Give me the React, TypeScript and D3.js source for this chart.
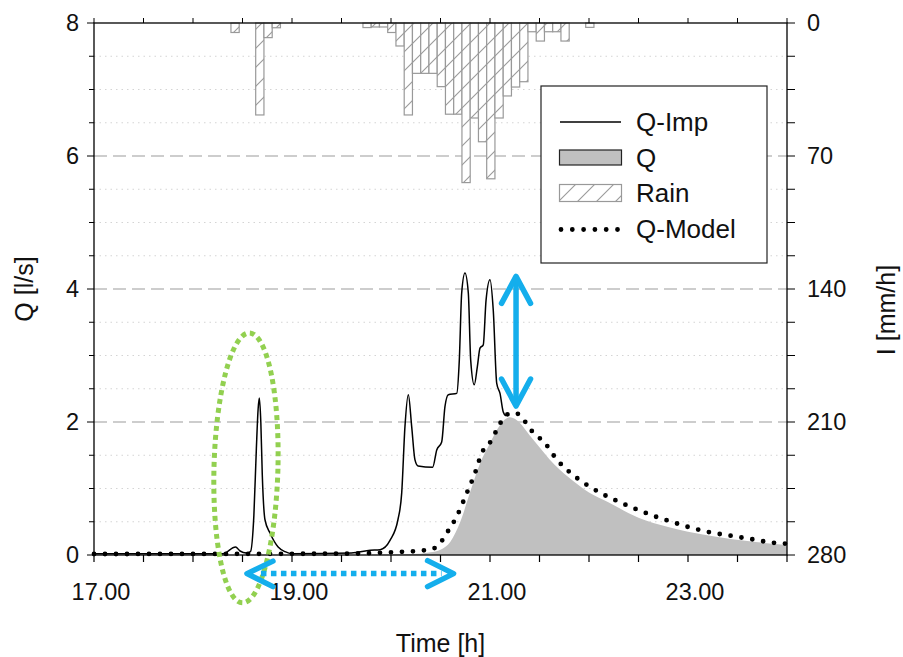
import React from "react";
import * as d3 from "d3";

// rain, 5-min blocks (start time hh:mm) and intensity in mm/h
const rainStart = [
  "18:23", "18:38", "18:43", "18:48", "19:43", "19:48", "19:53", "19:58", "20:03", "20:08",
  "20:13", "20:18", "20:23", "20:28", "20:33", "20:38", "20:43", "20:48", "20:53", "20:58",
  "21:03", "21:08", "21:13", "21:18", "21:23", "21:28", "21:33", "21:38", "21:43", "21:58",
];
const rainIntensity = [
  5, 48.4, 7.7, 2.5, 2.4, 2.1, 2.1, 5, 12.1, 48.4,
  26.5, 26.5, 26.5, 33.5, 48, 48, 84, 50, 62.5, 82,
  50, 38.4, 33.7, 30.9, 4.6, 9.5, 4.6, 4.6, 9.5, 2.3,
];

// measured flow Q-Imp [l/s]
const impTime = [
  17.0, 18.3, 18.43, 18.475, 18.54, 18.58, 18.615, 18.64, 18.658, 18.67,
  18.685, 18.7, 18.727, 18.778, 18.86, 18.93, 19.0, 19.6, 19.79, 19.89,
  19.99, 20.07, 20.108, 20.141, 20.175, 20.209, 20.242, 20.273, 20.421, 20.462,
  20.512, 20.545, 20.579, 20.664, 20.69, 20.714, 20.747, 20.781, 20.805, 20.841,
  20.872, 20.899, 20.932, 20.96, 21.0, 21.033, 21.068, 21.101, 21.134, 21.16,
];
const impQ = [
  0.02, 0.02, 0.12, 0.06, 0.03, 0.05, 0.6, 1.6, 2.2, 2.36,
  2.0, 1.2, 0.53, 0.33, 0.12, 0.05, 0.02, 0.03, 0.07, 0.08,
  0.22, 0.53, 0.93, 1.93, 2.41, 1.93, 1.43, 1.34, 1.32, 1.58,
  1.7, 2.23, 2.41, 2.43, 2.93, 3.94, 4.24, 3.94, 2.93, 2.56,
  2.83, 3.11, 3.16, 3.83, 4.14, 3.68, 2.58, 2.43, 2.15, 2.09,
];

// Q (grey area)
const qTime = [
  17.0, 19.7, 20.3, 20.4, 20.5, 20.6, 20.7, 20.8, 20.9, 21.0, 21.1, 21.2, 21.3,
  21.4, 21.5, 21.6, 21.7, 21.8, 22.0, 22.2, 22.5, 22.8, 23.0, 23.3, 23.6, 24.0,
];
const qVal = [
  0, 0, 0.02, 0.04, 0.08, 0.2, 0.5, 0.95, 1.38, 1.68, 1.95, 2.07, 1.99,
  1.8, 1.62, 1.44, 1.29, 1.16, 0.94, 0.79, 0.56, 0.42, 0.35, 0.27, 0.21, 0.15,
];

// Q-Model
const modelTime = [
  17.0, 19.5, 20.0, 20.36, 20.46, 20.563, 20.664, 20.765, 20.848, 20.916,
  21.017, 21.068, 21.169, 21.253, 21.336, 21.42, 21.5, 21.556, 21.667, 21.801,
  21.953, 22.121, 22.303, 22.475, 22.65, 22.835, 23.03, 23.229, 23.431, 23.636,
  23.855, 24.0,
];
const modelQ = [
  0.015, 0.02, 0.04, 0.075, 0.12, 0.33, 0.58, 0.93, 1.23, 1.53,
  1.73, 1.88, 2.11, 2.14, 2.04, 1.87, 1.76, 1.68, 1.45, 1.25,
  1.08, 0.93, 0.8, 0.69, 0.59, 0.5, 0.41, 0.34, 0.29, 0.24,
  0.185, 0.17,
];

const xLabels = [17, 19, 21, 23];
const qLabels = [0, 2, 4, 6, 8];
const iLabels = [0, 70, 140, 210, 280];
const legendItems = ["Q-Imp", "Q", "Rain", "Q-Model"];

const font = "Liberation Sans, Arial, sans-serif";
const blue = "#14AEEC";
const green = "#92D050";

const toHours = (s: string) => {
  const [h, m] = s.split(":").map(Number);
  return h + m / 60;
};

export default function App() {
  const x = d3.scaleLinear().domain([17, 24]).range([94, 787]);
  const y = d3.scaleLinear().domain([0, 8]).range([555, 23]);
  const yR = d3.scaleLinear().domain([0, 280]).range([23, 555]);
  const [x0, x1] = x.range();
  const [yb, yt] = y.range();

  const impLine = d3
    .line<number>()
    .x((d, i) => x(impTime[i]))
    .y((d) => y(d))
    .curve(d3.curveMonotoneX)(impQ);
  const modelLine = d3
    .line<number>()
    .x((d, i) => x(modelTime[i]))
    .y((d) => y(d))
    .curve(d3.curveMonotoneX)(modelQ);
  const qArea = d3
    .area<number>()
    .x((d, i) => x(qTime[i]))
    .y0(y(0))
    .y1((d) => y(d))
    .curve(d3.curveMonotoneX)(qVal);

  const minorQ = d3.range(0.5, 8, 0.5).filter((v) => v % 2 !== 0);
  const majorQ = [2, 4, 6];
  const halfHours = d3.range(17, 24.01, 0.5);
  const qTicks = d3.range(0, 8.01, 0.5);
  const iTicks = d3.range(0, 280.1, 17.5);

  // annotation positions in data units
  const vArrow = { t: 21.263, top: 4.19, bottom: 2.24 };
  const hArrow = { q: -0.28, from: 18.545, to: 20.632 };
  const ell = { t: 18.535, q: 1.31, dt: 0.323, dq: 2.03 };

  const vx = x(vArrow.t);
  const vTop = y(vArrow.top);
  const vBot = y(vArrow.bottom);
  const hy = y(hArrow.q);
  const hL = x(hArrow.from);
  const hR = x(hArrow.to);

  const legX = 541;
  const legY = 86;

  return (
    <svg
      width={903}
      height={657}
      style={{ position: "absolute", left: 0, top: 0, background: "#fff" }}
      fontFamily={font}
    >
      <defs>
        <pattern id="hatch" patternUnits="userSpaceOnUse" width="19" height="19">
          <rect width="19" height="19" fill="#fff" />
          <path d="M0,19 L19,0 M-4,4 L4,-4 M15,23 L23,15" stroke="#9a9a9a" strokeWidth="1.1" />
        </pattern>
      </defs>

      {/* grid */}
      {minorQ.map((v) => (
        <line key={"mg" + v} x1={x0} x2={x1} y1={y(v)} y2={y(v)} stroke="#d4d4d4" strokeWidth={1} strokeDasharray="1.5 4" />
      ))}
      {majorQ.map((v) => (
        <line key={"g" + v} x1={x0} x2={x1} y1={y(v)} y2={y(v)} stroke="#bdbdbd" strokeWidth={1.5} strokeDasharray="13 6" />
      ))}

      {/* rain bars hanging from the top */}
      {rainStart.map((s, i) => {
        const t = toHours(s);
        const bx = x(t);
        const bw = x(t + 5 / 60) - bx;
        return (
          <rect
            key={"r" + i}
            x={bx}
            y={yR(0)}
            width={bw}
            height={yR(rainIntensity[i]) - yR(0)}
            fill="url(#hatch)"
            stroke="#999"
            strokeWidth={1.2}
          />
        );
      })}

      {/* Q area */}
      <path d={qArea || ""} fill="#c0c0c0" />
      {/* Q-Imp */}
      <path d={impLine || ""} fill="none" stroke="#000" strokeWidth={1.5} />
      {/* Q-Model */}
      <path d={modelLine || ""} fill="none" stroke="#000" strokeWidth={4.8} strokeLinecap="round" strokeDasharray="0 11" />

      {/* frame */}
      <rect x={x0} y={yt} width={x1 - x0} height={yb - yt} fill="none" stroke="#000" strokeWidth={1.3} />

      {/* bottom / top ticks */}
      {halfHours.map((t) => (
        <g key={"xt" + t}>
          <line x1={x(t)} x2={x(t)} y1={yb} y2={yb + 7} stroke="#000" strokeWidth={1.2} />
          <line x1={x(t)} x2={x(t)} y1={yt} y2={yt - 5} stroke="#000" strokeWidth={1} />
        </g>
      ))}
      {xLabels.map((t) => (
        <text key={"xl" + t} x={x(t) + 7} y={600} textAnchor="middle" fontSize={23.5} fill="#111">
          {d3.format(".2f")(t)}
        </text>
      ))}

      {/* left axis */}
      {qTicks.map((v) => (
        <line key={"lt" + v} x1={x0 - (v % 2 === 0 ? 7 : 5)} x2={x0} y1={y(v)} y2={y(v)} stroke="#000" strokeWidth={1} />
      ))}
      {qLabels.map((v) => (
        <text key={"ll" + v} x={79} y={y(v)} dy="0.36em" textAnchor="end" fontSize={23.5} fill="#111">
          {v}
        </text>
      ))}

      {/* right axis */}
      {iTicks.map((v) => (
        <line key={"rt" + v} x1={x1} x2={x1 + 8} y1={yR(v)} y2={yR(v)} stroke="#000" strokeWidth={1} />
      ))}
      {iLabels.map((v) => (
        <text key={"rl" + v} x={807} y={yR(v)} dy="0.36em" textAnchor="start" fontSize={23.5} fill="#111">
          {v}
        </text>
      ))}

      {/* axis titles */}
      <text transform={`translate(33,${(yb + yt) / 2}) rotate(-90)`} textAnchor="middle" fontSize={25} fill="#111">
        Q [l/s]
      </text>
      <text transform={`translate(895,310) rotate(-90)`} textAnchor="middle" fontSize={25} fill="#111">
        I [mm/h]
      </text>
      <text x={(x0 + x1) / 2} y={652} textAnchor="middle" fontSize={25} fill="#111">
        Time [h]
      </text>

      {/* legend */}
      <g>
        <rect x={legX} y={legY} width={226} height={177} fill="#fff" stroke="#222" strokeWidth={1.2} />
        {legendItems.map((name, i) => {
          const cy = legY + 36 + i * 35.5;
          return (
            <g key={name}>
              {name === "Q-Imp" && <line x1={560} x2={621} y1={cy} y2={cy} stroke="#000" strokeWidth={1.5} />}
              {name === "Q" && <rect x={559.5} y={cy - 7.5} width={62} height={15} fill="#c0c0c0" stroke="#222" strokeWidth={1.2} />}
              {name === "Rain" && <rect x={559.5} y={cy - 8.5} width={62} height={17} fill="url(#hatch)" stroke="#999" strokeWidth={1.2} />}
              {name === "Q-Model" && (
                <line x1={561} x2={618} y1={cy + 1} y2={cy + 1} stroke="#000" strokeWidth={4.8} strokeLinecap="round" strokeDasharray="0 11.3" />
              )}
              <text x={636} y={cy} dy="0.36em" fontSize={26} fill="#111">
                {name}
              </text>
            </g>
          );
        })}
      </g>

      {/* annotations */}
      <ellipse
        cx={x(ell.t)}
        cy={y(ell.q)}
        rx={x(ell.t + ell.dt) - x(ell.t)}
        ry={y(0) - y(ell.dq)}
        transform={`rotate(1.5 ${x(ell.t)} ${y(ell.q)})`}
        fill="none"
        stroke={green}
        strokeWidth={5}
        strokeDasharray="5 4"
      />
      <g stroke={blue} strokeWidth={5.5} strokeLinecap="round" strokeLinejoin="round" fill="none">
        <line x1={vx} x2={vx} y1={vTop + 3} y2={vBot - 3} />
        <polyline points={`${vx - 14.5},${vTop + 27} ${vx},${vTop} ${vx + 14.5},${vTop + 27}`} />
        <polyline points={`${vx - 14.5},${vBot - 27} ${vx},${vBot} ${vx + 14.5},${vBot - 27}`} />
        <polyline points={`${hL + 26},${hy - 12.5} ${hL},${hy} ${hL + 26},${hy + 13}`} />
        <polyline points={`${hR - 26},${hy - 13} ${hR},${hy} ${hR - 26},${hy + 13}`} />
      </g>
      <line x1={hL + 14} x2={hR - 12} y1={hy} y2={hy} stroke={blue} strokeWidth={5.5} strokeDasharray="5.5 4.5" />
    </svg>
  );
}
